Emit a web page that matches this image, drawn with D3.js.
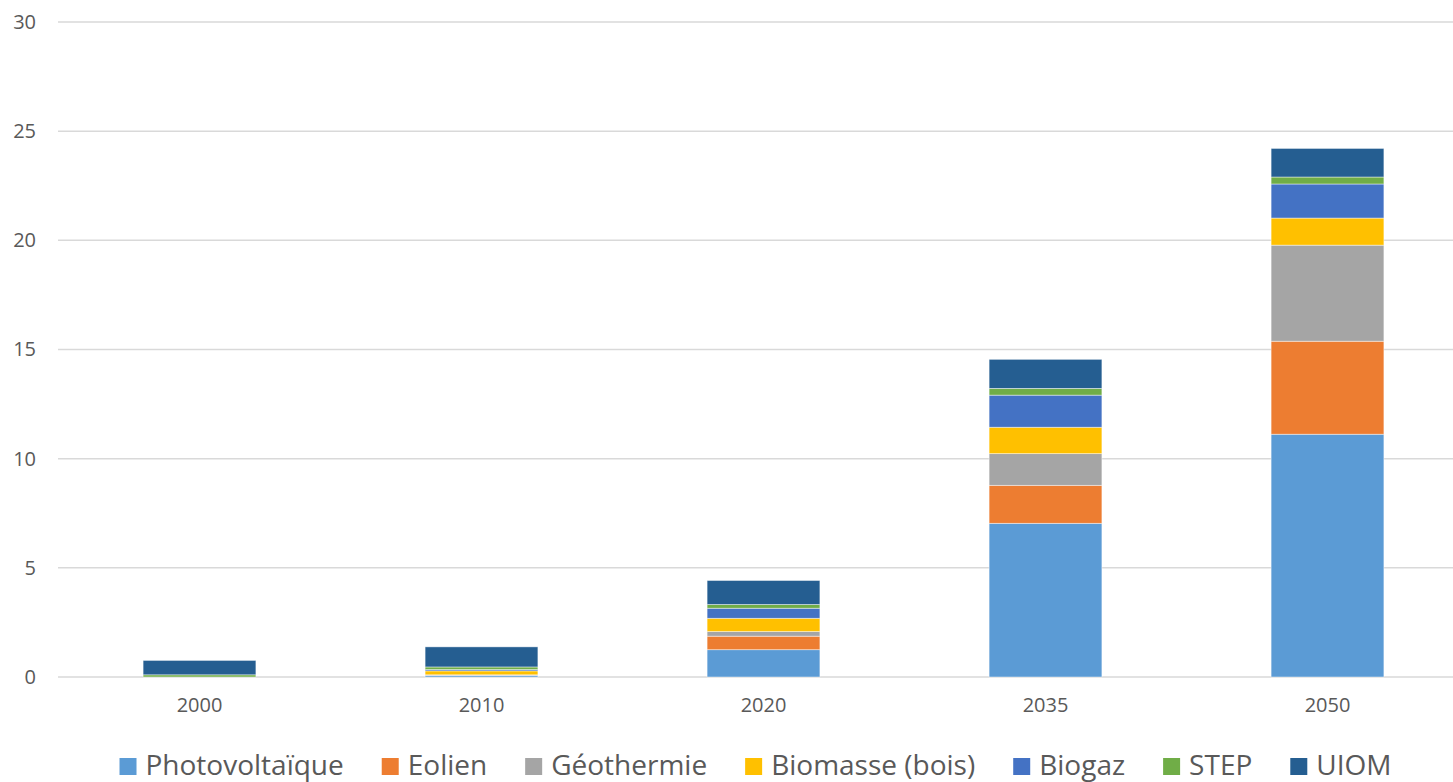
<!DOCTYPE html>
<html>
<head>
<meta charset="utf-8">
<script src="https://cdn.jsdelivr.net/npm/d3@7"></script>
<style>
  body { margin: 0; background: #fff; }
  text { font-family: "Open Sans", "Liberation Sans", sans-serif; fill: #595959; }
</style>
</head>
<body>
<svg id="chart" width="1453" height="782"></svg>
<script>
// années (catégories)
const annees = ["2000", "2010", "2020", "2035", "2050"]
// filières
const filieres = ["Photovoltaïque", "Eolien", "Géothermie", "Biomasse (bois)", "Biogaz", "STEP", "UIOM"]
const couleurs = ["#5B9BD5", "#ED7D31", "#A5A5A5", "#FFC000", "#4472C4", "#70AD47", "#255E91"]
// valeurs par filière, une valeur par année
const photovoltaique = [0.00, 0.08, 1.25, 7.04, 11.12]
const eolien = [0.00, 0.01, 0.62, 1.74, 4.26]
const geothermie = [0.00, 0.01, 0.21, 1.45, 4.40]
const biomasse = [0.00, 0.18, 0.61, 1.21, 1.24]
const biogaz = [0.00, 0.06, 0.46, 1.47, 1.56]
const step = [0.10, 0.12, 0.17, 0.31, 0.32]
const uiom = [0.66, 0.92, 1.10, 1.33, 1.31]
// graduations de l'axe Y
const yTicks = [0, 5, 10, 15, 20, 25, 30]

const series = [photovoltaique, eolien, geothermie, biomasse, biogaz, step, uiom]

// table pour d3.stack
const table = annees.map((a, i) => {
    const row = { annee: a }
    filieres.forEach((f, j) => { row[f] = series[j][i] })
    return row
})

const svg = d3.select("#chart")

const x = d3.scaleBand()
    .domain(annees)
    .range([58.5, 1468.5])
    .paddingInner(0.6)
    .paddingOuter(0.3)

const y = d3.scaleLinear()
    .domain([0, 30])
    .range([677, 22])

// grille horizontale
svg.append("g")
    .selectAll("line")
    .data(yTicks)
    .join("line")
    .attr("x1", 58)
    .attr("x2", 1453)
    .attr("y1", d => y(d))
    .attr("y2", d => y(d))
    .attr("stroke", "#d9d9d9")
    .attr("stroke-width", 1.5)

// axe Y (libellés seulement)
const yAxis = svg.append("g")
    .attr("transform", "translate(36,0)")
    .call(d3.axisLeft(y).tickValues(yTicks).tickSize(0).tickPadding(0))
yAxis.select(".domain").remove()
yAxis.selectAll("text")
    .style("font-size", "20px")
    .attr("fill", "#595959")

// barres empilées
const stacked = d3.stack().keys(filieres)(table)

svg.append("g")
    .selectAll("g")
    .data(stacked)
    .join("g")
    .attr("fill", (d, i) => couleurs[i])
    .selectAll("rect")
    .data(d => d)
    .join("rect")
    .attr("x", d => x(d.data.annee))
    .attr("width", x.bandwidth())
    .attr("y", d => y(d[1]))
    .attr("height", d => Math.max(0, y(d[0]) - y(d[1])))
    .attr("stroke", "#ffffff")
    .attr("stroke-opacity", 0.6)
    .attr("stroke-width", 0.75)

// axe X (libellés seulement)
const xAxis = svg.append("g")
    .attr("transform", "translate(0,698)")
    .call(d3.axisBottom(x).tickSize(0).tickPadding(0))
xAxis.select(".domain").remove()
xAxis.selectAll("text")
    .style("font-size", "20px")
    .attr("fill", "#595959")

// légende centrée sous la zone de tracé
const legende = svg.append("g")
const items = legende.selectAll("g")
    .data(filieres)
    .join("g")
items.append("rect")
    .attr("width", 17)
    .attr("height", 17)
    .attr("y", -17)
    .attr("fill", (d, i) => couleurs[i])
items.append("text")
    .attr("x", 26)
    .attr("y", 0)
    .style("font-size", "28px")
    .text(d => d)

let cursor = 0
items.each(function () {
    const w = this.querySelector("text").getComputedTextLength()
    d3.select(this).attr("transform", `translate(${cursor},775)`)
    cursor += 26 + w + 38
})
const total = cursor - 38
legende.attr("transform", `translate(${(58 + 1453) / 2 - total / 2},0)`)
</script>
</body>
</html>
